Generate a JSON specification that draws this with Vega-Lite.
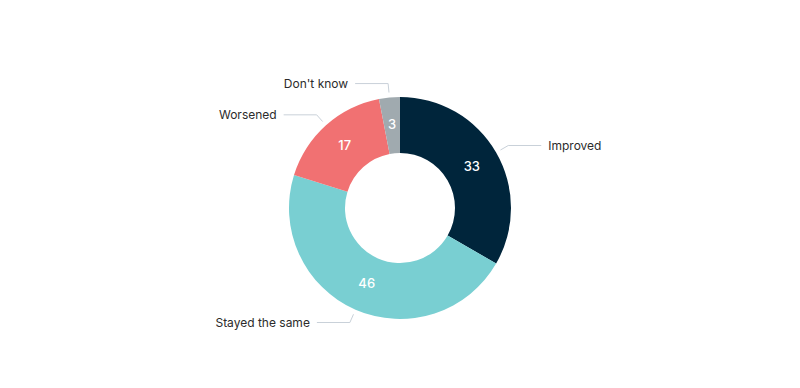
{
  "$schema": "https://vega.github.io/schema/vega-lite/v6.json",
  "width": 800,
  "height": 360,
  "padding": {"top": 28, "left": 0, "right": 0, "bottom": 0},
  "autosize": {"type": "none"},
  "background": "white",
  "config": {"view": {"stroke": null}, "font": "Inter"},
  "data": {
    "values": [
      {"category": "Improved", "value": 33},
      {"category": "Stayed the same", "value": 46},
      {"category": "Worsened", "value": 17},
      {"category": "Don't know", "value": 3}
    ]
  },
  "transform": [
    {"window": [{"op": "row_number", "as": "idx"}]},
    {"joinaggregate": [{"op": "sum", "field": "value", "as": "total"}]},
    {"stack": "value", "groupby": [], "sort": [{"field": "idx"}], "as": ["s0", "s1"]},
    {"calculate": "(datum.s0 + datum.s1) / 2", "as": "mid"},
    {"calculate": "PI * (datum.s0 + datum.s1) / datum.total", "as": "ang"},
    {"calculate": "sin(datum.ang) >= 0 ? 1 : -1", "as": "sg"},
    {"calculate": "116 * sin(datum.ang)", "as": "p1x"},
    {"calculate": "116 * cos(datum.ang)", "as": "p1y"},
    {"calculate": "125 * sin(datum.ang)", "as": "p2x"},
    {"calculate": "125 * cos(datum.ang)", "as": "p2y"},
    {"calculate": "datum.p2x + 33 * datum.sg", "as": "p3x"},
    {"calculate": "datum.p3x + 7 * datum.sg", "as": "lx"}
  ],
  "layer": [
    {
      "mark": {"type": "arc", "outerRadius": 111, "innerRadius": 55},
      "encoding": {
        "theta": {"field": "s0", "type": "quantitative", "scale": {"domain": [0, 99]}},
        "theta2": {"field": "s1"},
        "color": {
          "field": "category",
          "type": "nominal",
          "scale": {
            "domain": ["Improved", "Stayed the same", "Worsened", "Don't know"],
            "range": ["#00253b", "#79cfd2", "#f17172", "#a0aaaf"]
          },
          "legend": null
        }
      }
    },
    {
      "mark": {"type": "text", "radius": 83, "color": "white", "fontSize": 13, "fontWeight": 500},
      "encoding": {
        "theta": {"field": "mid", "type": "quantitative"},
        "text": {"field": "value", "type": "quantitative"}
      }
    },
    {
      "mark": {"type": "rule", "color": "#c9d1d9", "strokeWidth": 1},
      "encoding": {
        "x": {"field": "p1x", "type": "quantitative", "scale": {"domain": [-400, 400]}, "axis": null},
        "y": {"field": "p1y", "type": "quantitative", "scale": {"domain": [-180, 180]}, "axis": null},
        "x2": {"field": "p2x"},
        "y2": {"field": "p2y"}
      }
    },
    {
      "mark": {"type": "rule", "color": "#c9d1d9", "strokeWidth": 1},
      "encoding": {
        "x": {"field": "p2x", "type": "quantitative", "scale": {"domain": [-400, 400]}, "axis": null},
        "y": {"field": "p2y", "type": "quantitative", "scale": {"domain": [-180, 180]}, "axis": null},
        "x2": {"field": "p3x"}
      }
    },
    {
      "transform": [{"filter": "datum.sg > 0"}],
      "mark": {"type": "text", "align": "left", "baseline": "middle", "fontSize": 12, "color": "#2b2b2b"},
      "encoding": {
        "x": {"field": "lx", "type": "quantitative", "scale": {"domain": [-400, 400]}, "axis": null},
        "y": {"field": "p2y", "type": "quantitative", "scale": {"domain": [-180, 180]}, "axis": null},
        "text": {"field": "category"}
      }
    },
    {
      "transform": [{"filter": "datum.sg < 0"}],
      "mark": {"type": "text", "align": "right", "baseline": "middle", "fontSize": 12, "color": "#2b2b2b"},
      "encoding": {
        "x": {"field": "lx", "type": "quantitative", "scale": {"domain": [-400, 400]}, "axis": null},
        "y": {"field": "p2y", "type": "quantitative", "scale": {"domain": [-180, 180]}, "axis": null},
        "text": {"field": "category"}
      }
    }
  ]
}
